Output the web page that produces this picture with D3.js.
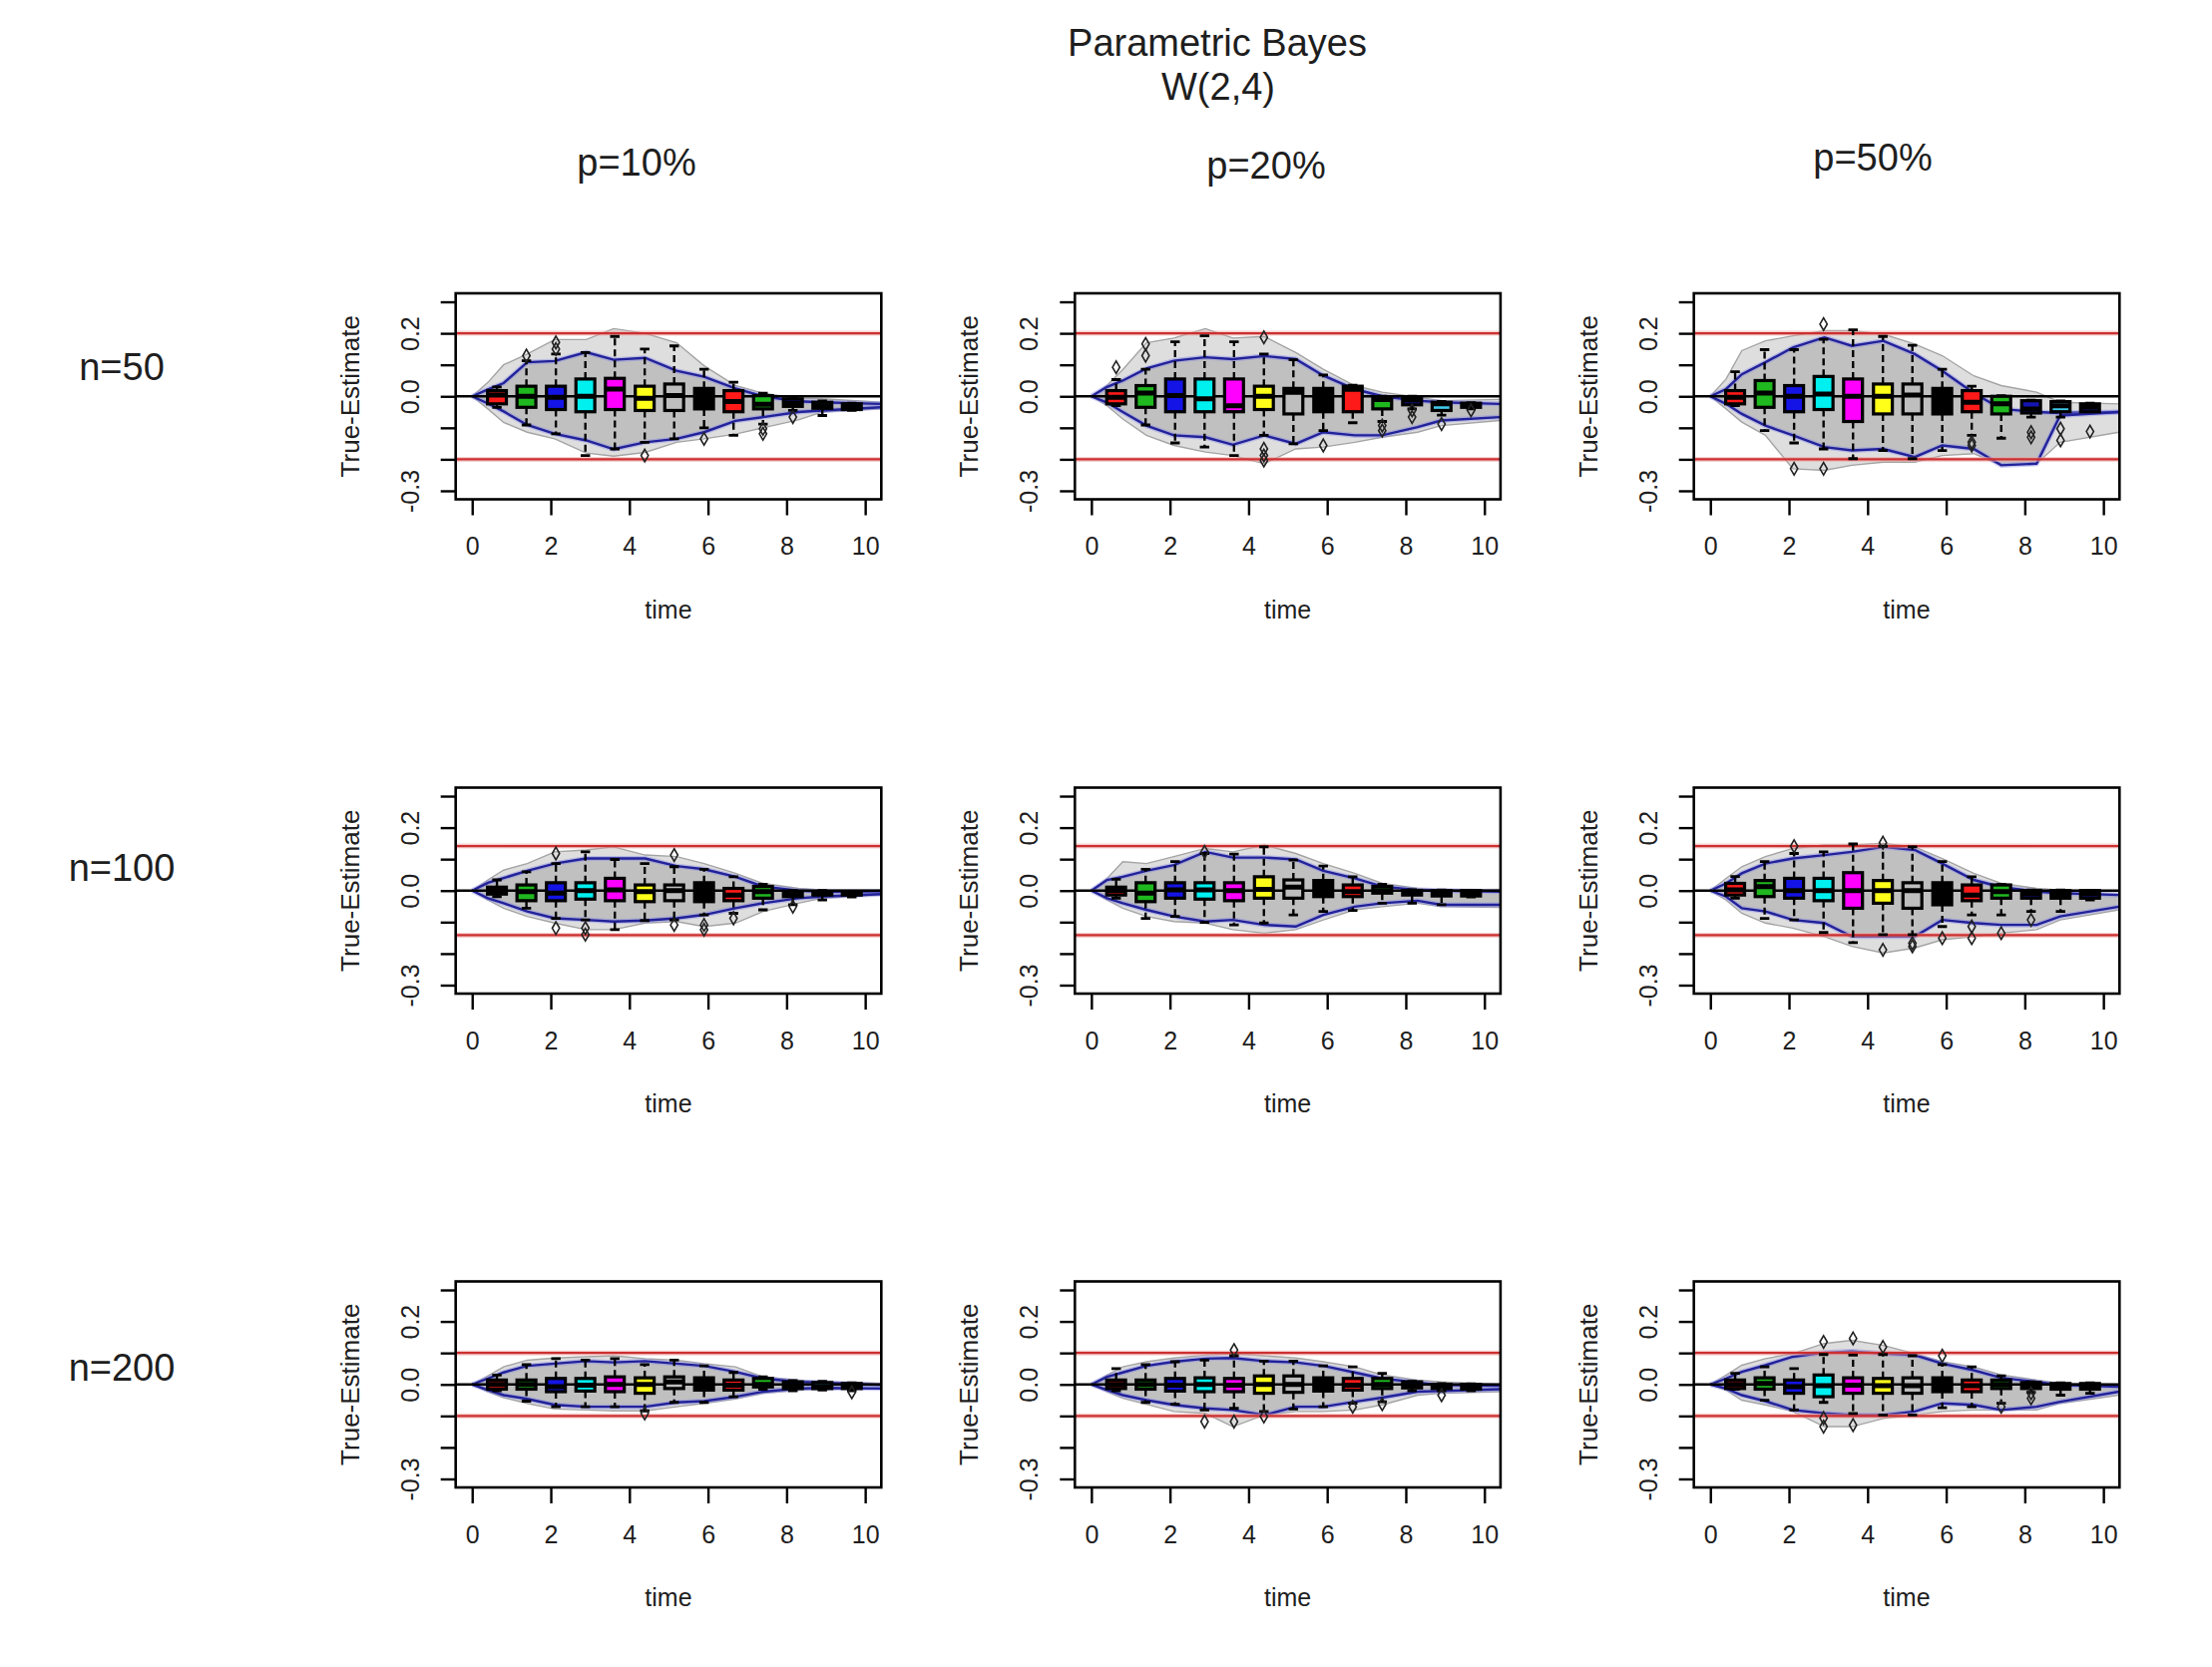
<!DOCTYPE html>
<html>
<head>
<meta charset="utf-8">
<script src="https://cdn.jsdelivr.net/npm/d3@7"></script>
<style>
  body { margin: 0; background: #ffffff; }
  svg { display: block; }
  text { font-family: "Liberation Sans", Arial, sans-serif; fill: #1e1e1e; }
</style>
</head>
<body>
<div id="chart"></div>
<script>
// ---- data ----
const TITLE = ["Parametric Bayes", "W(2,4)"];
const COL_LABELS = ["p=10%", "p=20%", "p=50%"];
const ROW_LABELS = ["n=50", "n=100", "n=200"];
const RED_LIMITS = [0.2, 0.1414, 0.1];          // +/- band per row
const X_TICKS = [0, 2, 4, 6, 8, 10];
const Y_TICKS = [-0.3, -0.2, -0.1, 0, 0.1, 0.2, 0.3];
const Y_TICK_LABELS = [-0.3, 0, 0.2];           // labels R kept
const LINE_T = [0, 0.4, 0.8, 1.4, 2.1, 2.9, 3.6, 4.4, 5.2, 5.9, 6.7, 7.4, 8.3, 8.9, 10.4];
const BOX_T = [0.63, 1.38, 2.13, 2.88, 3.63, 4.39, 5.14, 5.9, 6.65, 7.4, 8.16, 8.91, 9.66];
const BOX_COLORS = ["#ff1a1a", "#1fb81f", "#1414e6", "#00f0f0", "#ff00ff", "#ffff1a", "#bebebe",
                    "#000000", "#ff1a1a", "#1fb81f", "#1414b0", "#40c8e8", "#2020c0"];

// n=50
const blueUp_50_10 = [0, 0.022, 0.042, 0.108, 0.112, 0.14, 0.116, 0.122, 0.081, 0.062, 0.025, 0.0, -0.016, -0.019, -0.024];
const blueLo_50_10 = [0, -0.023, -0.048, -0.091, -0.119, -0.14, -0.168, -0.146, -0.135, -0.114, -0.078, -0.066, -0.05, -0.045, -0.035];
const grayUp_50_10 = [0, 0.044, 0.10, 0.134, 0.18, 0.18, 0.215, 0.2, 0.17, 0.097, 0.034, 0.01, -0.006, -0.008, -0.019];
const grayLo_50_10 = [0, -0.04, -0.083, -0.114, -0.135, -0.18, -0.19, -0.178, -0.146, -0.135, -0.12, -0.1, -0.075, -0.05, -0.04];
const boxes_50_10 = [
  [-0.035, -0.024, 0.004, 0.018, 0.03], [-0.091, -0.035, 0.0, 0.032, 0.113], [-0.119, -0.042, -0.003, 0.032, 0.134],
  [-0.188, -0.049, 0.0, 0.055, 0.139], [-0.167, -0.042, 0.023, 0.057, 0.19], [-0.146, -0.045, -0.006, 0.032, 0.15],
  [-0.135, -0.045, 0.002, 0.039, 0.16], [-0.1, -0.04, -0.008, 0.025, 0.086], [-0.124, -0.049, -0.017, 0.018, 0.045],
  [-0.088, -0.04, -0.025, 0.002, 0.01], [-0.045, -0.032, -0.021, -0.008, -0.005], [-0.061, -0.038, -0.03, -0.019, -0.015],
  [-0.045, -0.042, -0.035, -0.024, -0.022]];
const outliers_50_10 = [[1, 0.129], [2, 0.171], [2, 0.15], [5, -0.188], [7, -0.135], [9, -0.103], [9, -0.119], [10, -0.066]];

const blueUp_50_20 = [0, 0.03, 0.05, 0.088, 0.113, 0.124, 0.118, 0.128, 0.118, 0.066, 0.023, 0.0, -0.014, -0.019, -0.024];
const blueLo_50_20 = [0, -0.02, -0.05, -0.093, -0.124, -0.13, -0.154, -0.124, -0.151, -0.114, -0.124, -0.124, -0.098, -0.077, -0.066];
const grayUp_50_20 = [0, 0.035, 0.085, 0.17, 0.185, 0.215, 0.185, 0.19, 0.139, 0.086, 0.034, 0.013, -0.003, -0.014, -0.01];
const grayLo_50_20 = [0, -0.03, -0.072, -0.124, -0.156, -0.177, -0.188, -0.214, -0.167, -0.161, -0.146, -0.13, -0.114, -0.093, -0.077];
const boxes_50_20 = [
  [-0.03, -0.024, -0.003, 0.018, 0.053], [-0.091, -0.035, 0.01, 0.034, 0.086], [-0.148, -0.049, 0.002, 0.055, 0.173],
  [-0.161, -0.049, -0.008, 0.055, 0.192], [-0.188, -0.049, -0.03, 0.055, 0.173], [-0.124, -0.042, 0.0, 0.032, 0.134],
  [-0.151, -0.056, 0.013, 0.025, 0.116], [-0.109, -0.049, -0.008, 0.025, 0.068], [-0.084, -0.049, 0.022, 0.032, 0.035],
  [-0.08, -0.04, -0.01, -0.003, 0.0], [-0.04, -0.027, -0.012, -0.003, 0.0], [-0.06, -0.045, -0.024, -0.019, -0.016],
  [-0.04, -0.035, -0.027, -0.022, -0.02]];
const outliers_50_20 = [[0, 0.092], [1, 0.166], [1, 0.129], [5, 0.187], [5, -0.167], [5, -0.188], [5, -0.204],
  [7, -0.156], [9, -0.093], [9, -0.109], [10, -0.045], [10, -0.066], [11, -0.088], [12, -0.045]];

const blueUp_50_50 = [0, 0.023, 0.07, 0.108, 0.155, 0.187, 0.16, 0.176, 0.134, 0.081, 0.01, -0.04, -0.05, -0.053, -0.05];
const blueLo_50_50 = [0, -0.024, -0.056, -0.093, -0.124, -0.161, -0.172, -0.167, -0.193, -0.156, -0.167, -0.219, -0.214, -0.061, -0.05];
const grayUp_50_50 = [0, 0.055, 0.145, 0.176, 0.192, 0.208, 0.208, 0.197, 0.166, 0.129, 0.065, 0.034, 0.013, -0.019, -0.024];
const grayLo_50_50 = [0, -0.04, -0.082, -0.124, -0.23, -0.235, -0.219, -0.209, -0.209, -0.188, -0.182, -0.219, -0.214, -0.146, -0.114];
const boxes_50_50 = [
  [-0.03, -0.024, -0.003, 0.018, 0.078], [-0.109, -0.035, 0.01, 0.05, 0.148], [-0.148, -0.049, 0.0, 0.034, 0.148],
  [-0.167, -0.042, 0.007, 0.063, 0.181], [-0.198, -0.08, 0.0, 0.055, 0.211], [-0.172, -0.056, 0.0, 0.039, 0.19],
  [-0.198, -0.056, 0.004, 0.039, 0.162], [-0.172, -0.056, -0.008, 0.025, 0.086], [-0.124, -0.049, -0.019, 0.018, 0.032],
  [-0.133, -0.056, -0.024, 0.0, 0.002], [-0.066, -0.053, -0.04, -0.014, -0.012], [-0.066, -0.049, -0.03, -0.017, -0.015],
  [-0.049, -0.049, -0.035, -0.024, -0.022]];
const outliers_50_50 = [[2, -0.23], [3, 0.229], [3, -0.23], [8, -0.146], [8, -0.156], [10, -0.114], [10, -0.13],
  [11, -0.103], [11, -0.14], [12, -0.112]];

// n=100
const blueUp_100_10 = [0, 0.025, 0.04, 0.063, 0.086, 0.102, 0.102, 0.102, 0.078, 0.068, 0.044, 0.013, 0.0, -0.003, -0.004];
const blueLo_100_10 = [0, -0.024, -0.04, -0.066, -0.088, -0.093, -0.098, -0.095, -0.088, -0.077, -0.056, -0.04, -0.024, -0.019, -0.011];
const grayUp_100_10 = [0, 0.034, 0.065, 0.086, 0.123, 0.129, 0.139, 0.113, 0.108, 0.086, 0.055, 0.023, 0.007, 0.002, 0.002];
const grayLo_100_10 = [0, -0.03, -0.056, -0.082, -0.103, -0.124, -0.124, -0.103, -0.098, -0.114, -0.103, -0.066, -0.04, -0.024, -0.014];
const boxes_100_10 = [
  [-0.019, -0.011, 0, 0.011, 0.034], [-0.056, -0.032, -0.003, 0.018, 0.06], [-0.088, -0.032, -0.008, 0.025, 0.086],
  [-0.093, -0.027, 0.0, 0.025, 0.123], [-0.124, -0.032, 0.002, 0.039, 0.099], [-0.095, -0.035, -0.003, 0.018, 0.086],
  [-0.093, -0.032, 0.0, 0.018, 0.076], [-0.077, -0.035, -0.008, 0.025, 0.068], [-0.072, -0.032, -0.014, 0.007, 0.044],
  [-0.061, -0.024, -0.003, 0.013, 0.02], [-0.045, -0.019, -0.01, -0.003, 0.0], [-0.03, -0.014, -0.008, -0.003, 0.0],
  [-0.02, -0.014, -0.008, -0.004, -0.002]];
const outliers_100_10 = [[2, 0.118], [2, -0.119], [3, -0.119], [3, -0.14], [6, 0.113], [6, -0.109], [7, -0.109],
  [7, -0.124], [8, -0.088], [10, -0.051]];

const blueUp_100_20 = [0, 0.034, 0.044, 0.063, 0.081, 0.123, 0.105, 0.105, 0.099, 0.063, 0.039, 0.013, 0.002, 0.0, -0.003];
const blueLo_100_20 = [0, -0.024, -0.04, -0.061, -0.082, -0.098, -0.093, -0.109, -0.114, -0.077, -0.051, -0.04, -0.032, -0.045, -0.045];
const grayUp_100_20 = [0, 0.039, 0.092, 0.086, 0.108, 0.134, 0.123, 0.145, 0.118, 0.086, 0.055, 0.023, 0.007, 0.002, 0.004];
const grayLo_100_20 = [0, -0.03, -0.056, -0.082, -0.098, -0.103, -0.124, -0.135, -0.124, -0.093, -0.061, -0.051, -0.04, -0.051, -0.053];
const boxes_100_20 = [
  [-0.024, -0.014, 0, 0.011, 0.036], [-0.088, -0.035, -0.008, 0.025, 0.068], [-0.082, -0.024, 0.002, 0.025, 0.092],
  [-0.101, -0.027, 0.002, 0.025, 0.118], [-0.109, -0.032, 0.0, 0.025, 0.116], [-0.103, -0.024, 0.004, 0.044, 0.139],
  [-0.077, -0.024, 0.011, 0.034, 0.097], [-0.066, -0.019, 0.002, 0.032, 0.078], [-0.063, -0.019, -0.003, 0.018, 0.044],
  [-0.04, -0.008, 0.0, 0.013, 0.02], [-0.04, -0.014, -0.006, 0.0, 0.003], [-0.045, -0.017, -0.008, 0.0, 0.002],
  [-0.02, -0.017, -0.008, 0.0, 0.0]];
const outliers_100_20 = [[3, 0.123]];

const blueUp_100_50 = [0, 0.023, 0.055, 0.086, 0.102, 0.113, 0.123, 0.139, 0.129, 0.086, 0.034, 0.011, -0.003, -0.008, -0.014];
const blueLo_100_50 = [0, -0.019, -0.056, -0.066, -0.093, -0.103, -0.146, -0.146, -0.146, -0.093, -0.103, -0.109, -0.109, -0.082, -0.051];
const grayUp_100_50 = [0, 0.039, 0.076, 0.108, 0.134, 0.145, 0.145, 0.15, 0.139, 0.102, 0.055, 0.023, 0.007, 0.002, 0.0];
const grayLo_100_50 = [0, -0.03, -0.072, -0.103, -0.119, -0.146, -0.177, -0.198, -0.182, -0.156, -0.146, -0.135, -0.124, -0.093, -0.061];
const boxes_100_50 = [
  [-0.024, -0.014, 0.002, 0.023, 0.045], [-0.088, -0.019, 0.013, 0.032, 0.092], [-0.093, -0.024, 0.0, 0.039, 0.118],
  [-0.133, -0.032, 0.0, 0.039, 0.123], [-0.165, -0.056, 0.0, 0.057, 0.148], [-0.14, -0.04, 0.0, 0.032, 0.141],
  [-0.14, -0.056, 0.0, 0.025, 0.139], [-0.114, -0.045, -0.008, 0.025, 0.092], [-0.077, -0.032, -0.014, 0.018, 0.044],
  [-0.077, -0.024, -0.003, 0.018, 0.02], [-0.066, -0.024, -0.01, 0.0, 0.002], [-0.066, -0.024, -0.012, 0.0, 0.002],
  [-0.03, -0.024, -0.01, 0.0, 0.0]];
const outliers_100_50 = [[2, 0.141], [5, 0.152], [5, -0.188], [6, -0.167], [6, -0.177], [7, -0.151], [8, -0.114],
  [8, -0.151], [9, -0.135], [10, -0.093]];

// n=200
const blueUp_200_10 = [0, 0.019, 0.038, 0.059, 0.066, 0.074, 0.07, 0.074, 0.066, 0.059, 0.04, 0.019, 0.008, 0.006, -0.002];
const blueLo_200_10 = [0, -0.018, -0.034, -0.046, -0.065, -0.071, -0.071, -0.071, -0.057, -0.053, -0.039, -0.023, -0.013, -0.011, -0.013];
const grayUp_200_10 = [0, 0.027, 0.056, 0.077, 0.084, 0.088, 0.091, 0.082, 0.077, 0.066, 0.056, 0.024, 0.014, 0.008, 0.003];
const grayLo_200_10 = [0, -0.023, -0.042, -0.06, -0.078, -0.081, -0.084, -0.084, -0.071, -0.06, -0.046, -0.028, -0.018, -0.015, -0.013];
const boxes_200_10 = [
  [-0.02, -0.015, 0.0, 0.014, 0.03], [-0.053, -0.015, 0.0, 0.014, 0.063], [-0.071, -0.023, -0.007, 0.019, 0.082],
  [-0.071, -0.021, -0.002, 0.019, 0.077], [-0.071, -0.023, 0.0, 0.024, 0.082], [-0.084, -0.028, 0.0, 0.021, 0.063],
  [-0.057, -0.013, 0.008, 0.024, 0.077], [-0.057, -0.018, 0.0, 0.021, 0.059], [-0.039, -0.018, -0.002, 0.014, 0.038],
  [-0.015, -0.008, 0.0, 0.019, 0.024], [-0.02, -0.013, -0.004, 0.008, 0.012], [-0.018, -0.013, -0.006, 0.006, 0.01],
  [-0.02, -0.013, -0.006, 0.003, 0.005]];
const outliers_200_10 = [[5, -0.092], [12, -0.025]];

const blueUp_200_20 = [0, 0.024, 0.038, 0.059, 0.072, 0.082, 0.084, 0.074, 0.07, 0.059, 0.038, 0.019, 0.006, -0.002, -0.004];
const blueLo_200_20 = [0, -0.018, -0.034, -0.05, -0.065, -0.076, -0.081, -0.097, -0.071, -0.071, -0.055, -0.042, -0.023, -0.021, -0.015];
const grayUp_200_20 = [0, 0.03, 0.056, 0.072, 0.084, 0.093, 0.098, 0.091, 0.084, 0.072, 0.056, 0.03, 0.014, 0.008, 0.0];
const grayLo_200_20 = [0, -0.023, -0.044, -0.063, -0.086, -0.092, -0.134, -0.097, -0.086, -0.086, -0.081, -0.065, -0.034, -0.028, -0.023];
const boxes_200_20 = [
  [-0.02, -0.013, 0.0, 0.014, 0.05], [-0.057, -0.015, 0.0, 0.014, 0.063], [-0.063, -0.021, -0.002, 0.019, 0.072],
  [-0.081, -0.023, 0.0, 0.021, 0.077], [-0.076, -0.023, -0.002, 0.019, 0.091], [-0.086, -0.028, 0.0, 0.027, 0.074],
  [-0.078, -0.025, 0.0, 0.027, 0.074], [-0.071, -0.021, -0.002, 0.021, 0.059], [-0.06, -0.018, -0.002, 0.019, 0.056],
  [-0.055, -0.013, 0.0, 0.019, 0.035], [-0.02, -0.011, -0.004, 0.008, 0.01], [-0.02, -0.013, -0.006, 0.0, 0.003],
  [-0.02, -0.015, -0.008, 0.0, 0.002]];
const outliers_200_20 = [[3, -0.118], [4, 0.109], [4, -0.118], [5, -0.102], [8, -0.071], [9, -0.063], [11, -0.034]];

const blueUp_200_50 = [0, 0.019, 0.04, 0.061, 0.088, 0.101, 0.105, 0.098, 0.093, 0.066, 0.045, 0.021, 0.008, -0.002, -0.007];
const blueLo_200_50 = [0, -0.013, -0.034, -0.053, -0.081, -0.092, -0.097, -0.097, -0.086, -0.06, -0.065, -0.081, -0.071, -0.055, -0.023];
const grayUp_200_50 = [0, 0.03, 0.061, 0.082, 0.098, 0.13, 0.14, 0.124, 0.098, 0.072, 0.056, 0.03, 0.014, 0.003, 0.0];
const grayLo_200_50 = [0, -0.018, -0.05, -0.065, -0.086, -0.134, -0.134, -0.108, -0.097, -0.086, -0.081, -0.081, -0.081, -0.06, -0.034];
const boxes_200_50 = [
  [-0.015, -0.013, 0.0, 0.014, 0.035], [-0.05, -0.015, 0.003, 0.021, 0.056], [-0.081, -0.028, -0.007, 0.014, 0.05],
  [-0.057, -0.039, -0.004, 0.03, 0.095], [-0.092, -0.028, -0.002, 0.021, 0.093], [-0.097, -0.028, -0.004, 0.019, 0.095],
  [-0.097, -0.028, -0.004, 0.021, 0.091], [-0.074, -0.023, -0.002, 0.021, 0.063], [-0.071, -0.023, -0.004, 0.014, 0.056],
  [-0.06, -0.013, 0.0, 0.014, 0.027], [-0.025, -0.013, -0.004, 0.006, 0.008], [-0.034, -0.015, -0.008, 0.003, 0.005],
  [-0.028, -0.015, -0.008, 0.003, 0.005]];
const outliers_200_50 = [[3, 0.135], [3, -0.107], [3, -0.134], [4, 0.146], [4, -0.129], [5, 0.119], [7, 0.091],
  [9, -0.071], [10, -0.028], [10, -0.044]];

const PANELS = [
  { row: 0, col: 0, blueUp: blueUp_50_10, blueLo: blueLo_50_10, grayUp: grayUp_50_10, grayLo: grayLo_50_10, boxes: boxes_50_10, outliers: outliers_50_10 },
  { row: 0, col: 1, blueUp: blueUp_50_20, blueLo: blueLo_50_20, grayUp: grayUp_50_20, grayLo: grayLo_50_20, boxes: boxes_50_20, outliers: outliers_50_20 },
  { row: 0, col: 2, blueUp: blueUp_50_50, blueLo: blueLo_50_50, grayUp: grayUp_50_50, grayLo: grayLo_50_50, boxes: boxes_50_50, outliers: outliers_50_50 },
  { row: 1, col: 0, blueUp: blueUp_100_10, blueLo: blueLo_100_10, grayUp: grayUp_100_10, grayLo: grayLo_100_10, boxes: boxes_100_10, outliers: outliers_100_10 },
  { row: 1, col: 1, blueUp: blueUp_100_20, blueLo: blueLo_100_20, grayUp: grayUp_100_20, grayLo: grayLo_100_20, boxes: boxes_100_20, outliers: outliers_100_20 },
  { row: 1, col: 2, blueUp: blueUp_100_50, blueLo: blueLo_100_50, grayUp: grayUp_100_50, grayLo: grayLo_100_50, boxes: boxes_100_50, outliers: outliers_100_50 },
  { row: 2, col: 0, blueUp: blueUp_200_10, blueLo: blueLo_200_10, grayUp: grayUp_200_10, grayLo: grayLo_200_10, boxes: boxes_200_10, outliers: outliers_200_10 },
  { row: 2, col: 1, blueUp: blueUp_200_20, blueLo: blueLo_200_20, grayUp: grayUp_200_20, grayLo: grayLo_200_20, boxes: boxes_200_20, outliers: outliers_200_20 },
  { row: 2, col: 2, blueUp: blueUp_200_50, blueLo: blueLo_200_50, grayUp: grayUp_200_50, grayLo: grayLo_200_50, boxes: boxes_200_50, outliers: outliers_200_50 },
];

// ---- layout ----
const WIDTH = 2217, HEIGHT = 1671;
const PLOT_LEFT = [456.7, 1077.3, 1697.7];
const PLOT_TOP = [294, 789.5, 1284.5];
const PW = 426.6, PH = 206.5;
const BOX_HALF = 0.24, STAPLE_HALF = 0.12;

// R prints an ASCII hyphen for negatives
const fmt1 = d => d3.format(".1f")(d).replace("\u2212", "-");

const svg = d3.select("#chart").append("svg")
    .attr("width", WIDTH)
    .attr("height", HEIGHT);

svg.append("rect").attr("width", WIDTH).attr("height", HEIGHT).attr("fill", "#ffffff");

// titles
svg.append("text").attr("x", 1220).attr("y", 56).attr("text-anchor", "middle")
    .style("font-size", "38px").text(TITLE[0]);
svg.append("text").attr("x", 1221).attr("y", 100).attr("text-anchor", "middle")
    .style("font-size", "38px").text(TITLE[1]);

const colHeadPos = [[638, 176], [1269, 179], [1877, 171]];
COL_LABELS.forEach((t, i) => {
    svg.append("text").attr("x", colHeadPos[i][0]).attr("y", colHeadPos[i][1])
        .attr("text-anchor", "middle").style("font-size", "38px").text(t);
});
const rowHeadY = [381, 883, 1384];
ROW_LABELS.forEach((t, i) => {
    svg.append("text").attr("x", 122).attr("y", rowHeadY[i])
        .attr("text-anchor", "middle").style("font-size", "38px").text(t);
});

const x = d3.scaleLinear().domain([-0.42, 10.41]).range([0, PW]);
const y = d3.scaleLinear().domain([-0.327, 0.327]).range([PH, 0]);

PANELS.forEach((p, pi) => {
    const g = svg.append("g")
        .attr("transform", `translate(${PLOT_LEFT[p.col]},${PLOT_TOP[p.row]})`);

    const clipId = `clip-${pi}`;
    g.append("defs").append("clipPath").attr("id", clipId)
        .append("rect").attr("width", PW).attr("height", PH);

    const plot = g.append("g").attr("clip-path", `url(#${clipId})`);

    const lineOf = arr => d3.line().x((d, i) => x(LINE_T[i])).y(d => y(d))(arr);
    const bandOf = (lo, up) => d3.area()
        .x((d, i) => x(LINE_T[i]))
        .y0((d, i) => y(lo[i]))
        .y1((d, i) => y(up[i]))(lo);

    // sparse outer paths and the dense middle of the simulated curves
    plot.append("path").attr("d", bandOf(p.grayLo, p.grayUp))
        .attr("fill", "#dedede");
    plot.append("path").attr("d", bandOf(p.blueLo, p.blueUp))
        .attr("fill", "#c0c0c0");
    [p.grayUp, p.grayLo].forEach(arr => {
        plot.append("path").attr("d", lineOf(arr))
            .attr("fill", "none").attr("stroke", "#a4a4a4").attr("stroke-width", 1.4);
    });

    // pointwise quantile lines
    [p.blueUp, p.blueLo].forEach(arr => {
        plot.append("path").attr("d", lineOf(arr))
            .attr("fill", "none").attr("stroke", "#8c8ce6").attr("stroke-width", 5).attr("opacity", 0.45);
        plot.append("path").attr("d", lineOf(arr))
            .attr("fill", "none").attr("stroke", "#22229a").attr("stroke-width", 2.4);
    });

    // reference lines
    plot.append("line").attr("x1", 0).attr("x2", PW).attr("y1", y(0)).attr("y2", y(0))
        .attr("stroke", "#000").attr("stroke-width", 2.4);
    [RED_LIMITS[p.row], -RED_LIMITS[p.row]].forEach(v => {
        plot.append("line").attr("x1", 0).attr("x2", PW).attr("y1", y(v)).attr("y2", y(v))
            .attr("stroke", "#f0a0a0").attr("stroke-width", 5).attr("opacity", 0.5);
        plot.append("line").attr("x1", 0).attr("x2", PW).attr("y1", y(v)).attr("y2", y(v))
            .attr("stroke", "#cc3030").attr("stroke-width", 2.2);
    });

    // boxplots
    const boxData = p.boxes.map((b, i) => ({ t: BOX_T[i], lo: b[0], q1: b[1], med: b[2], q3: b[3], hi: b[4], color: BOX_COLORS[i] }));
    const bg = plot.selectAll(".box").data(boxData).join("g").attr("class", "box");

    bg.append("line")
        .attr("x1", d => x(d.t)).attr("x2", d => x(d.t))
        .attr("y1", d => y(d.q3)).attr("y2", d => y(d.hi))
        .attr("stroke", "#000").attr("stroke-width", 2.4).attr("stroke-dasharray", "7,4");
    bg.append("line")
        .attr("x1", d => x(d.t)).attr("x2", d => x(d.t))
        .attr("y1", d => y(d.q1)).attr("y2", d => y(d.lo))
        .attr("stroke", "#000").attr("stroke-width", 2.4).attr("stroke-dasharray", "7,4");
    bg.append("line")
        .attr("x1", d => x(d.t - STAPLE_HALF)).attr("x2", d => x(d.t + STAPLE_HALF))
        .attr("y1", d => y(d.hi)).attr("y2", d => y(d.hi))
        .attr("stroke", "#000").attr("stroke-width", 2.8);
    bg.append("line")
        .attr("x1", d => x(d.t - STAPLE_HALF)).attr("x2", d => x(d.t + STAPLE_HALF))
        .attr("y1", d => y(d.lo)).attr("y2", d => y(d.lo))
        .attr("stroke", "#000").attr("stroke-width", 2.8);
    bg.append("rect")
        .attr("x", d => x(d.t - BOX_HALF))
        .attr("width", x(BOX_HALF * 2) - x(0))
        .attr("y", d => y(d.q3))
        .attr("height", d => Math.max(1, y(d.q1) - y(d.q3)))
        .attr("fill", d => d.color)
        .attr("stroke", "#000").attr("stroke-width", 3.2);
    bg.append("line")
        .attr("x1", d => x(d.t - BOX_HALF)).attr("x2", d => x(d.t + BOX_HALF))
        .attr("y1", d => y(d.med)).attr("y2", d => y(d.med))
        .attr("stroke", "#000").attr("stroke-width", 5);

    plot.selectAll(".outlier").data(p.outliers).join("path")
        .attr("class", "outlier")
        .attr("transform", d => `translate(${x(BOX_T[d[0]])},${y(d[1])})`)
        .attr("d", d3.symbol(d3.symbolDiamond, 46))
        .attr("fill", "none").attr("stroke", "#222").attr("stroke-width", 1.6);

    // frame
    g.append("rect").attr("width", PW).attr("height", PH)
        .attr("fill", "none").attr("stroke", "#000").attr("stroke-width", 2.6);

    // axes
    const xAxis = g.append("g").attr("transform", `translate(0,${PH})`)
        .call(d3.axisBottom(x).tickValues(X_TICKS).tickSize(16).tickPadding(22).tickFormat(d3.format("d")));
    xAxis.select(".domain").remove();
    xAxis.selectAll(".tick line").attr("stroke", "#000").attr("stroke-width", 2.4);
    xAxis.selectAll(".tick text").style("font-size", "25px").attr("fill", "#1e1e1e");

    const yAxis = g.append("g")
        .call(d3.axisLeft(y).tickValues(Y_TICKS).tickSize(15)
            .tickFormat(d => Y_TICK_LABELS.some(v => Math.abs(v - d) < 1e-9) ? fmt1(d) : ""));
    yAxis.select(".domain").remove();
    yAxis.selectAll(".tick line").attr("stroke", "#000").attr("stroke-width", 2.4);
    yAxis.selectAll(".tick text")
        .attr("x", 0).attr("dy", 0)
        .attr("text-anchor", "middle")
        .attr("transform", "translate(-37,0) rotate(-90)")
        .style("font-size", "25px").attr("fill", "#1e1e1e");

    g.append("text")
        .attr("transform", `translate(${-97},${PH / 2}) rotate(-90)`)
        .attr("text-anchor", "middle")
        .style("font-size", "26px")
        .text("True-Estimate");

    g.append("text")
        .attr("x", PW / 2).attr("y", PH + 119)
        .attr("text-anchor", "middle")
        .style("font-size", "25px")
        .text("time");
});
</script>
</body>
</html>
